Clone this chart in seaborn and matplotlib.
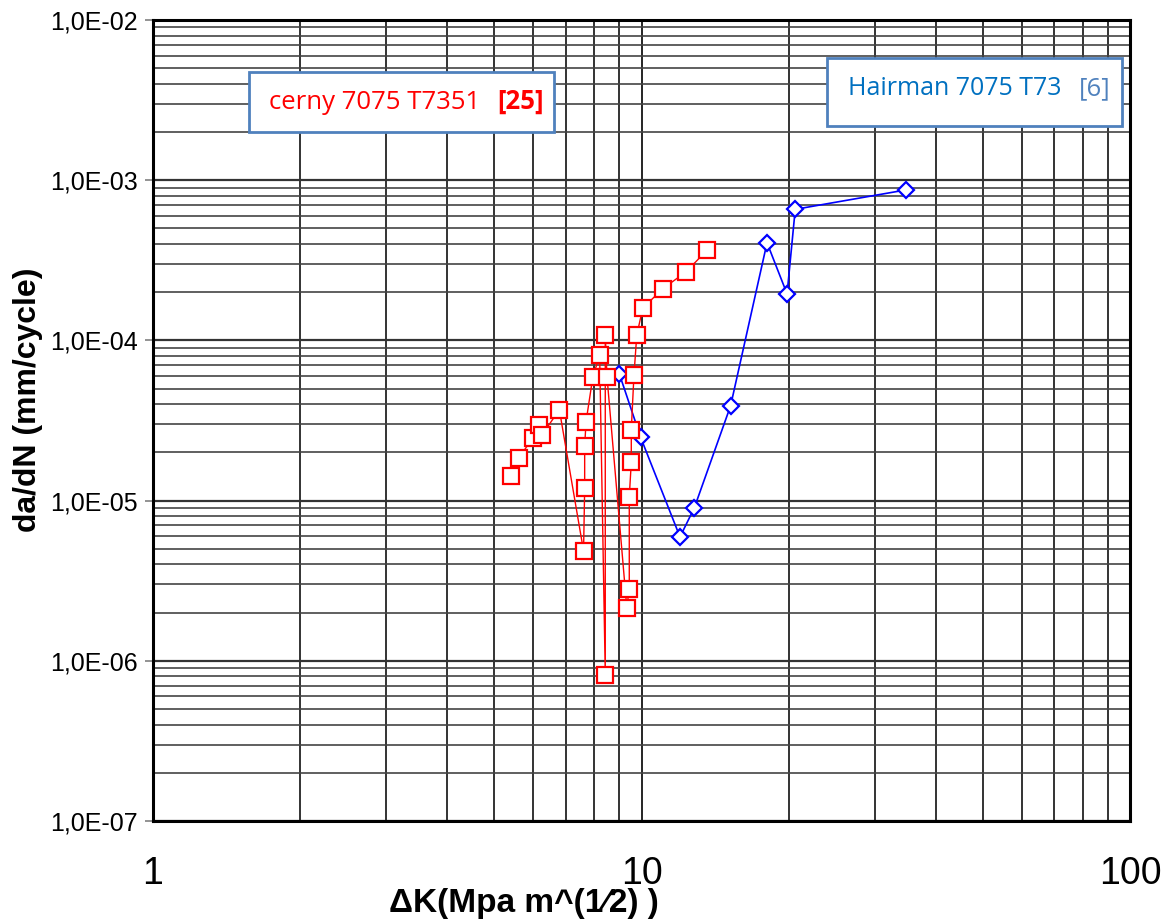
import pandas as pd
import matplotlib
matplotlib.use("Agg")
import matplotlib.pyplot as plt
import matplotlib.ticker as mticker
from matplotlib.patches import Rectangle
import seaborn as sns

sns.set_style("white")
plt.rcParams['font.family'] = ['Liberation Sans', 'DejaVu Sans']

# cerny 7075 T7351 [25]  (points in series order)
cerny_dk = [5.40, 5.61, 5.99, 6.16, 6.25, 6.79, 7.61, 7.65, 7.65, 7.70, 7.95, 8.21, 8.43,
            8.43, 8.50, 9.33, 9.44, 9.44, 9.53, 9.53, 9.65, 9.78, 10.06, 11.05, 12.34, 13.63]
cerny_dadn = [1.42e-5, 1.84e-5, 2.47e-5, 2.96e-5, 2.56e-5, 3.69e-5, 4.85e-6, 1.19e-5, 2.19e-5,
              3.11e-5, 5.91e-5, 8.07e-5, 8.19e-7, 1.08e-4, 5.91e-5, 2.15e-6, 2.81e-6, 1.06e-5,
              1.73e-5, 2.77e-5, 6.05e-5, 1.08e-4, 1.59e-4, 2.10e-4, 2.68e-4, 3.67e-4]

# Hairman 7075 T73 [6]
hairman_dk = [9.01, 9.96, 11.99, 12.83, 15.22, 18.07, 19.86, 20.64, 34.74]
hairman_dadn = [6.17e-5, 2.48e-5, 5.93e-6, 9.03e-6, 3.91e-5, 4.07e-4, 1.95e-4, 6.58e-4, 8.69e-4]

x_ticks = [1, 10, 100]
y_ticks = [1e-7, 1e-6, 1e-5, 1e-4, 1e-3, 1e-2]

cerny = pd.DataFrame({"dK": cerny_dk, "dadN": cerny_dadn})
hairman = pd.DataFrame({"dK": hairman_dk, "dadN": hairman_dadn})

W, H = 1167, 921
fig = plt.figure(figsize=(W / 100, H / 100), dpi=100)
ax = fig.add_axes([153 / W, 1 - 821 / H, (1130 - 153) / W, (821 - 20) / H])

sns.lineplot(data=hairman, x="dK", y="dadN", sort=False, estimator=None, ax=ax,
             color="#0000FF", linewidth=1.2, marker="D", markersize=8,
             markerfacecolor="white", markeredgecolor="#0000FF", markeredgewidth=1.6, zorder=3)
sns.lineplot(data=cerny, x="dK", y="dadN", sort=False, estimator=None, ax=ax,
             color="#FF0000", linewidth=1.0, marker="s", markersize=11.5,
             markerfacecolor="white", markeredgecolor="#FF0000", markeredgewidth=1.6, zorder=4)

ax.set_xscale("log")
ax.set_yscale("log")
ax.set_xlim(1, 100)
ax.set_ylim(1e-7, 1e-2)

ax.set_xticks(x_ticks)
ax.xaxis.set_major_formatter(mticker.FuncFormatter(lambda v, _: f"{v:g}"))
ax.set_yticks(y_ticks)
ax.yaxis.set_major_formatter(mticker.FuncFormatter(lambda v, _: f"{v:.1E}".replace(".", ",")))
ax.xaxis.set_minor_locator(mticker.LogLocator(base=10, subs=range(2, 10)))
ax.yaxis.set_minor_locator(mticker.LogLocator(base=10, subs=range(2, 10)))
ax.xaxis.set_minor_formatter(mticker.NullFormatter())
ax.yaxis.set_minor_formatter(mticker.NullFormatter())

ax.grid(True, which="major", axis="x", color="#000000", linewidth=1.2)
ax.grid(True, which="minor", axis="x", color="#111111", linewidth=1.2)
ax.grid(True, which="major", axis="y", color="#333333", linewidth=1.6)
ax.grid(True, which="minor", axis="y", color="#444444", linewidth=1.2)
ax.set_axisbelow(True)

ax.tick_params(axis="x", which="major", length=0, pad=25, labelsize=27, labelcolor="black")
ax.tick_params(axis="y", which="major", length=6, width=1.2, color="#808080",
               direction="out", left=True, pad=5, labelsize=18, labelcolor="black")
ax.tick_params(which="minor", length=0)

for s in ax.spines.values():
    s.set_color("black")
    s.set_linewidth(2.2)

ax.set_xlabel("ΔK(Mpa m^(1⁄2) )", fontsize=24, fontweight="bold", color="black")
ax.set_ylabel("da/dN (mm/cycle)", fontsize=23, fontweight="bold", color="black")
ax.xaxis.set_label_coords(0.38, -0.084)
ax.yaxis.set_label_coords(-0.113, 0.526)


def fx(px):
    return px / W


def fy(py):
    return 1 - py / H


# legend boxes drawn as text boxes
fig.patches.append(Rectangle((fx(249), fy(132)), (554 - 249) / W, (132 - 72) / H,
                             transform=fig.transFigure, facecolor="white",
                             edgecolor="#4F81BD", linewidth=2, zorder=5))
fig.text(fx(269), fy(109), "cerny 7075 T7351", color="#FF0000", fontsize=18.5,
         family="Open Sans", va="baseline", zorder=6)
fig.text(fx(497), fy(109), "[25]", color="#FF0000", fontsize=18.5, fontweight="bold",
         family="Open Sans", va="baseline", zorder=6)

fig.patches.append(Rectangle((fx(827), fy(126)), (1122 - 827) / W, (126 - 58) / H,
                             transform=fig.transFigure, facecolor="white",
                             edgecolor="#4F81BD", linewidth=2, zorder=5))
fig.text(fx(848), fy(95), "Hairman 7075 T73", color="#0070C0", fontsize=18,
         family="Open Sans", va="baseline", zorder=6)
fig.text(fx(1079), fy(95), "[6]", color="#4F81BD", fontsize=18.5,
         family="Open Sans", va="baseline", zorder=6)

fig.savefig("out.png", dpi=100)
